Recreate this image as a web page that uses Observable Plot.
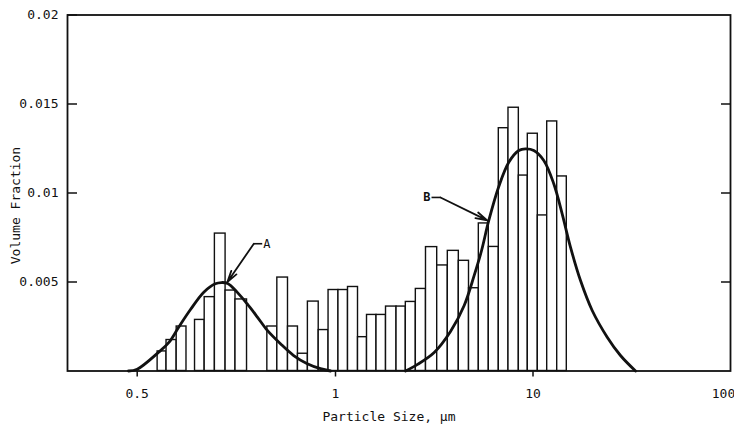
<!DOCTYPE html>
<html><head><meta charset="utf-8">
<script src="https://cdn.jsdelivr.net/npm/d3@7"></script>
<script src="https://cdn.jsdelivr.net/npm/@observablehq/plot@0.6"></script>
<style>
html,body{margin:0;padding:0;background:#fff;}
#chart{width:734px;height:428px;}
</style></head><body><div id="chart"></div>
<script>
// Axis ticks
const xTickValues = [0.5, 1, 10, 100];
const xTickLabels = ["0.5", "1", "10", "100"];
const yTickValues = [0.005, 0.01, 0.015, 0.02];
const yTickLabels = ["0.005", "0.01", "0.015", "0.02"];

// Histogram bins (particle size, µm) and volume fraction
const binLow = [0.537,0.554,0.574,0.612,0.633,0.656,0.681,0.705,0.788,0.816,0.847,0.877,0.908,0.943,0.976,1.035,1.157,1.300,1.444,1.613,1.802,2.037,2.270,2.551,2.872,3.273,3.704,4.211,4.742,5.317,5.973,6.712,7.514,8.477,9.412,10.576,11.80,13.26];
const binHigh = [0.554,0.574,0.594,0.633,0.656,0.681,0.705,0.734,0.816,0.847,0.877,0.908,0.943,0.976,1.035,1.157,1.300,1.444,1.613,1.802,2.037,2.270,2.551,2.872,3.273,3.704,4.211,4.742,5.317,5.973,6.712,7.514,8.477,9.412,10.576,11.80,13.26,14.83];
const binFraction = [0.0011,0.00174,0.0025,0.00287,0.00415,0.00772,0.00452,0.00402,0.0025,0.00525,0.0025,0.00097,0.0039,0.0023,0.00455,0.00455,0.00472,0.0019,0.00315,0.00315,0.00362,0.00362,0.00388,0.00461,0.00696,0.00593,0.00675,0.00619,0.00465,0.00829,0.00697,0.01364,0.01479,0.01098,0.01333,0.00874,0.01402,0.01093];

// Fitted curve A
const curveASize = [0.485,0.5,0.539,0.559,0.578,0.602,0.631,0.657,0.671,0.686,0.709,0.734,0.761,0.788,0.825,0.864,0.906,0.949,0.983];
const curveAFraction = [0,0.0001,0.00106,0.00162,0.00246,0.00344,0.00443,0.0049,0.00497,0.00492,0.00443,0.00378,0.00303,0.00228,0.00153,0.00087,0.00041,0.00013,0];
// Fitted curve B
const curveBSize = [2.262,2.602,3.160,3.822,4.483,5.038,5.49,5.973,6.712,7.542,8.477,9.163,10.09,11.34,12.74,14.05,15.48,17.40,19.94,23.76,27.73,33.04];
const curveBFraction = [0,0.00037,0.00104,0.00222,0.00368,0.00537,0.00677,0.00846,0.01037,0.01173,0.01239,0.01248,0.01239,0.01183,0.01052,0.00883,0.00696,0.00508,0.0034,0.0019,0.00087,0];

// Annotations
const labelNames = ["A", "B"];
const labelSize = [0.777, 3.027];
const labelFraction = [0.00715, 0.00975];
const leaderStubX1 = [0.774, 3.063];
const leaderStubX2 = [0.7516, 3.401];
const leaderTipSize = [0.685, 5.863];
const leaderTipFraction = [0.00499, 0.00846];

const bins = binLow.map((lo, i) => ({lo, hi: binHigh[i], f: binFraction[i]}));
const curveA = curveASize.map((x, i) => ({x, y: curveAFraction[i]}));
const curveB = curveBSize.map((x, i) => ({x, y: curveBFraction[i]}));
const notes = labelNames.map((t, i) => ({
  t, lx: labelSize[i], ly: labelFraction[i],
  s1: leaderStubX1[i], s2: leaderStubX2[i],
  tx: leaderTipSize[i], ty: leaderTipFraction[i]
}));
const xTicks = xTickValues.map((v, i) => ({v, label: xTickLabels[i]}));

const ink = "#111";
const chart = Plot.plot({
  width: 734, height: 428,
  marginLeft: 67, marginRight: 4, marginTop: 14.5, marginBottom: 57.5,
  style: {fontFamily: "'DejaVu Sans Mono', monospace", fontSize: "13px", color: ink, background: "#fff"},
  x: {type: "log", domain: [0.3915, 0.5, 1, 10, 100], range: [67, 136.7, 335, 532.5, 730]},
  y: {domain: [0, 0.02], range: [370.5, 14.5]},
  marks: [
    Plot.rect(bins, {x1: "lo", x2: "hi", y1: () => 0, y2: "f", fill: "white", stroke: ink, strokeWidth: 1.4}),
    Plot.line(curveA, {x: "x", y: "y", curve: "catmull-rom", stroke: ink, strokeWidth: 2.8}),
    Plot.line(curveB, {x: "x", y: "y", curve: "catmull-rom", stroke: ink, strokeWidth: 2.8}),
    Plot.link(notes, {x1: "s1", x2: "s2", y1: "ly", y2: "ly", stroke: ink, strokeWidth: 1.6}),
    Plot.arrow(notes, {x1: "s2", y1: "ly", x2: "tx", y2: "ty", stroke: ink, strokeWidth: 1.8, headLength: 10, headAngle: 30}),
    Plot.text(notes.slice(0,1), {x: "lx", y: "ly", text: "t", textAnchor: "start", fontSize: 12, fill: ink}),
    Plot.text(notes.slice(1), {x: "lx", y: "ly", text: "t", textAnchor: "end", fontSize: 12, fontWeight: "bold", fill: ink}),
    Plot.frame({stroke: ink, strokeWidth: 1.8}),
    Plot.axisY(yTickValues, {anchor: "left", tickSize: -10, tickPadding: 19, strokeWidth: 1.5,
      tickFormat: d => yTickLabels[yTickValues.indexOf(d)], label: null}),
    Plot.axisY(yTickValues.slice(0, 3), {anchor: "right", tickSize: -10, strokeWidth: 1.5, tickFormat: () => "", label: null}),
    Plot.axisX(xTickValues.slice(0, 3), {anchor: "bottom", tickSize: 6, strokeWidth: 1.5, tickFormat: () => "", label: null}),
    Plot.text(xTicks.slice(0, 3), {x: "v", text: "label", frameAnchor: "bottom", lineAnchor: "middle", textAnchor: "middle", dy: 22.5, fill: ink}),
    Plot.text(xTicks.slice(3), {x: "v", text: "label", frameAnchor: "bottom", lineAnchor: "middle", textAnchor: "middle", dy: 22.5, dx: -7, fill: ink}),
    Plot.text(["Particle Size, µm"], {frameAnchor: "bottom", lineAnchor: "middle", textAnchor: "middle", dy: 46, dx: -10, fill: ink}),
    Plot.text(["Volume Fraction"], {frameAnchor: "left", lineAnchor: "middle", textAnchor: "middle", rotate: -90, dx: -52, dy: 12.5, fill: ink})
  ]
});
document.getElementById("chart").appendChild(chart);
</script>
</body></html>
